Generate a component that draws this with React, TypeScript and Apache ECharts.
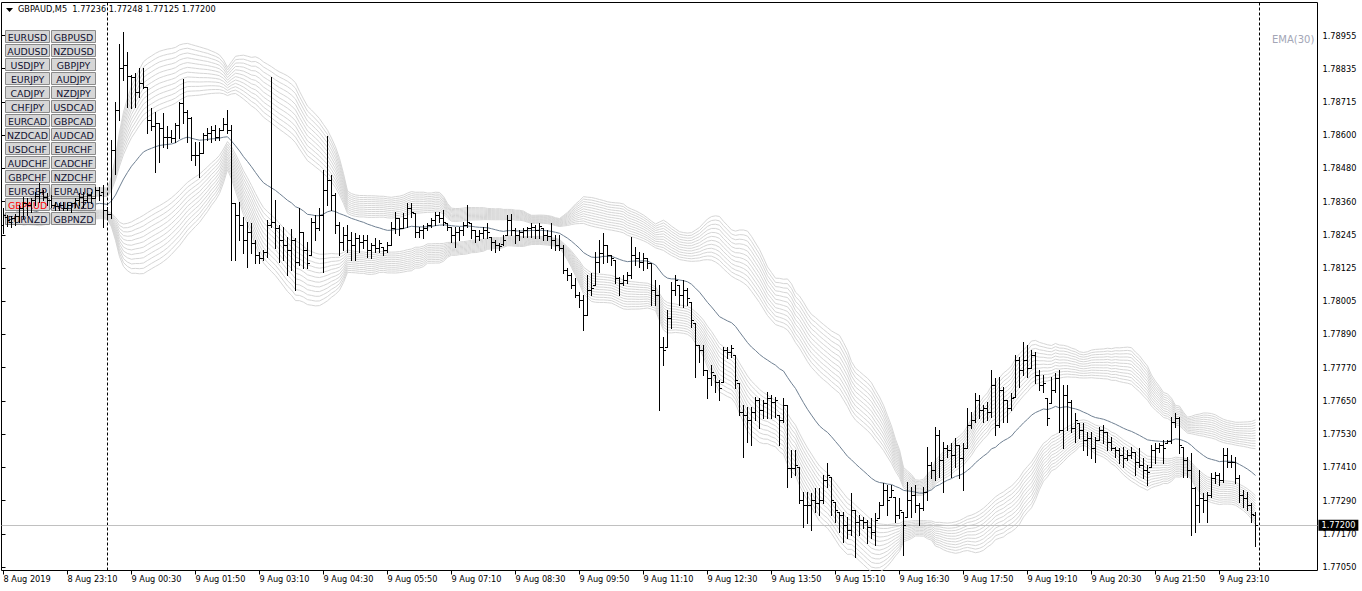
import React, { useEffect, useRef } from 'react';
import * as echarts from 'echarts';

// [open, high, low, close] per M5 bar, 8 Aug 2019 21:50 .. 9 Aug 2019 23:55
const ohlc: number[][] = [
  [1.78276,1.78337,1.78248,1.78312],[1.78305,1.78312,1.78273,1.78294],[1.78287,1.78309,1.78269,1.78301],[1.78301,1.78316,1.78276,1.78309],
  [1.78309,1.78348,1.78287,1.78337],[1.78337,1.78377,1.78301,1.78355],[1.78355,1.78373,1.78312,1.78348],[1.78348,1.78373,1.78323,1.78366],
  [1.78366,1.78395,1.78348,1.78380],[1.78380,1.78427,1.78359,1.78395],[1.78395,1.78402,1.78366,1.78377],[1.78377,1.78391,1.78348,1.78366],
  [1.78366,1.78384,1.78341,1.78348],[1.78348,1.78359,1.78330,1.78344],[1.78344,1.78355,1.78330,1.78348],[1.78348,1.78359,1.78330,1.78337],
  [1.78337,1.78355,1.78330,1.78348],[1.78348,1.78355,1.78323,1.78355],[1.78355,1.78373,1.78341,1.78366],[1.78366,1.78391,1.78348,1.78377],
  [1.78377,1.78395,1.78341,1.78366],[1.78366,1.78391,1.78359,1.78384],[1.78384,1.78395,1.78355,1.78373],[1.78373,1.78413,1.78373,1.78402],
  [1.78402,1.78413,1.78366,1.78384],[1.78395,1.78420,1.78269,1.78330],[1.78330,1.78341,1.78301,1.78316],[1.78316,1.78581,1.78301,1.78545],
  [1.78545,1.78717,1.78459,1.78689],[1.78689,1.78925,1.78653,1.78839],[1.78839,1.78968,1.78796,1.78850],[1.78850,1.78897,1.78699,1.78811],
  [1.78811,1.78814,1.78696,1.78807],[1.78807,1.78821,1.78699,1.78753],[1.78753,1.78839,1.78735,1.78785],[1.78785,1.78839,1.78768,1.78771],
  [1.78771,1.78771,1.78606,1.78653],[1.78653,1.78696,1.78617,1.78631],[1.78631,1.78681,1.78466,1.78642],[1.78642,1.78642,1.78502,1.78624],
  [1.78624,1.78678,1.78556,1.78592],[1.78592,1.78631,1.78552,1.78592],[1.78592,1.78617,1.78574,1.78588],[1.78588,1.78642,1.78574,1.78635],
  [1.78635,1.78717,1.78588,1.78714],[1.78714,1.78800,1.78642,1.78681],[1.78681,1.78689,1.78574,1.78660],[1.78660,1.78664,1.78509,1.78527],
  [1.78527,1.78574,1.78491,1.78527],[1.78527,1.78574,1.78448,1.78534],[1.78534,1.78606,1.78534,1.78599],[1.78599,1.78624,1.78581,1.78606],
  [1.78606,1.78631,1.78574,1.78617],[1.78617,1.78635,1.78581,1.78592],[1.78592,1.78624,1.78581,1.78617],[1.78617,1.78660,1.78617,1.78638],
  [1.78638,1.78689,1.78606,1.78617],[1.78617,1.78635,1.78151,1.78355],[1.78355,1.78355,1.78151,1.78312],[1.78312,1.78359,1.78223,1.78276],
  [1.78276,1.78305,1.78176,1.78223],[1.78223,1.78287,1.78126,1.78251],[1.78251,1.78283,1.78176,1.78212],[1.78212,1.78223,1.78140,1.78169],
  [1.78169,1.78179,1.78140,1.78158],[1.78158,1.78187,1.78151,1.78179],[1.78179,1.78294,1.78162,1.78276],[1.78276,1.78807,1.78269,1.78287],
  [1.78287,1.78366,1.78194,1.78266],[1.78266,1.78276,1.78144,1.78223],[1.78223,1.78269,1.78151,1.78205],[1.78205,1.78233,1.78097,1.78187],
  [1.78187,1.78262,1.78115,1.78223],[1.78223,1.78230,1.78043,1.78144],[1.78144,1.78337,1.78133,1.78251],[1.78251,1.78251,1.78122,1.78187],
  [1.78187,1.78215,1.78122,1.78140],[1.78169,1.78301,1.78169,1.78287],[1.78287,1.78312,1.78223,1.78266],[1.78266,1.78337,1.78258,1.78312],
  [1.78312,1.78474,1.78108,1.78402],[1.78402,1.78595,1.78348,1.78438],[1.78438,1.78456,1.78330,1.78384],[1.78384,1.78391,1.78248,1.78276],
  [1.78276,1.78287,1.78169,1.78215],[1.78215,1.78269,1.78187,1.78240],[1.78240,1.78276,1.78179,1.78223],[1.78223,1.78251,1.78151,1.78205],
  [1.78205,1.78248,1.78151,1.78230],[1.78230,1.78240,1.78179,1.78215],[1.78215,1.78240,1.78194,1.78223],[1.78223,1.78240,1.78162,1.78187],
  [1.78187,1.78212,1.78158,1.78205],[1.78205,1.78230,1.78179,1.78194],[1.78194,1.78223,1.78179,1.78212],[1.78197,1.78197,1.78169,1.78187],
  [1.78187,1.78215,1.78179,1.78205],[1.78205,1.78287,1.78205,1.78266],[1.78266,1.78323,1.78248,1.78301],[1.78301,1.78301,1.78240,1.78266],
  [1.78266,1.78319,1.78266,1.78301],[1.78301,1.78355,1.78269,1.78337],[1.78337,1.78355,1.78305,1.78323],[1.78319,1.78319,1.78233,1.78251],
  [1.78251,1.78269,1.78233,1.78258],[1.78258,1.78276,1.78230,1.78266],[1.78266,1.78283,1.78258,1.78276],[1.78276,1.78301,1.78269,1.78294],
  [1.78294,1.78323,1.78276,1.78312],[1.78312,1.78323,1.78287,1.78301],[1.78301,1.78330,1.78276,1.78287],[1.78283,1.78283,1.78258,1.78269],
  [1.78269,1.78269,1.78215,1.78240],[1.78240,1.78269,1.78197,1.78251],[1.78251,1.78269,1.78223,1.78258],[1.78258,1.78287,1.78240,1.78276],
  [1.78276,1.78348,1.78269,1.78287],[1.78283,1.78283,1.78230,1.78258],[1.78258,1.78258,1.78215,1.78237],[1.78237,1.78258,1.78223,1.78248],
  [1.78248,1.78269,1.78230,1.78258],[1.78258,1.78283,1.78230,1.78251],[1.78233,1.78233,1.78187,1.78215],[1.78215,1.78223,1.78179,1.78205],
  [1.78205,1.78212,1.78187,1.78201],[1.78208,1.78240,1.78205,1.78223],[1.78240,1.78312,1.78240,1.78294],[1.78294,1.78316,1.78240,1.78258],
  [1.78258,1.78266,1.78212,1.78240],[1.78240,1.78258,1.78223,1.78251],[1.78251,1.78266,1.78233,1.78258],[1.78258,1.78269,1.78233,1.78266],
  [1.78266,1.78283,1.78233,1.78269],[1.78269,1.78276,1.78230,1.78258],[1.78258,1.78283,1.78230,1.78273],[1.78266,1.78266,1.78223,1.78240],
  [1.78240,1.78258,1.78223,1.78237],[1.78237,1.78283,1.78194,1.78223],[1.78223,1.78240,1.78187,1.78205],[1.78205,1.78240,1.78187,1.78194],
  [1.78194,1.78205,1.78104,1.78115],[1.78115,1.78122,1.78079,1.78097],[1.78097,1.78104,1.78050,1.78061],[1.78061,1.78086,1.78018,1.78025],
  [1.78025,1.78036,1.77982,1.78007],[1.78007,1.78025,1.77900,1.77954],[1.77954,1.78097,1.77954,1.78043],[1.78043,1.78104,1.78025,1.78050],
  [1.78061,1.78179,1.78061,1.78144],[1.78144,1.78223,1.78108,1.78176],[1.78176,1.78248,1.78140,1.78205],[1.78205,1.78205,1.78144,1.78169],
  [1.78169,1.78169,1.78133,1.78158],[1.78151,1.78151,1.78068,1.78086],[1.78086,1.78090,1.78025,1.78068],[1.78068,1.78097,1.78061,1.78079],
  [1.78079,1.78108,1.78068,1.78097],[1.78097,1.78233,1.78086,1.78169],[1.78169,1.78197,1.78133,1.78158],[1.78158,1.78179,1.78126,1.78144],
  [1.78144,1.78176,1.78115,1.78158],[1.78158,1.78158,1.78122,1.78140],[1.78140,1.78140,1.77990,1.78043],[1.78043,1.78079,1.77990,1.78025],
  [1.78025,1.78061,1.77613,1.77839],[1.77839,1.77875,1.77774,1.77828],[1.77839,1.77972,1.77839,1.77943],[1.77943,1.78072,1.77907,1.78043],
  [1.78043,1.78097,1.78025,1.78079],[1.78061,1.78061,1.77990,1.78025],[1.78025,1.78079,1.77982,1.78043],[1.78043,1.78050,1.77990,1.78014],
  [1.78000,1.78000,1.77911,1.77936],[1.77925,1.77925,1.77731,1.77846],[1.77846,1.77846,1.77785,1.77828],[1.77828,1.77846,1.77739,1.77756],
  [1.77756,1.77756,1.77656,1.77728],[1.77728,1.77774,1.77703,1.77749],[1.77739,1.77739,1.77678,1.77713],[1.77713,1.77721,1.77649,1.77692],
  [1.77713,1.77839,1.77713,1.77828],[1.77828,1.77839,1.77799,1.77821],[1.77821,1.77846,1.77803,1.77835],[1.77810,1.77810,1.77692,1.77721],
  [1.77710,1.77710,1.77595,1.77606],[1.77606,1.77631,1.77444,1.77595],[1.77595,1.77624,1.77498,1.77577],[1.77577,1.77624,1.77487,1.77606],
  [1.77606,1.77660,1.77577,1.77649],[1.77649,1.77656,1.77548,1.77613],[1.77613,1.77649,1.77584,1.77638],[1.77638,1.77678,1.77584,1.77656],
  [1.77656,1.77667,1.77584,1.77642],[1.77642,1.77660,1.77588,1.77649],[1.77595,1.77595,1.77487,1.77577],[1.77577,1.77656,1.77570,1.77631],
  [1.77631,1.77631,1.77337,1.77405],[1.77405,1.77470,1.77373,1.77405],[1.77405,1.77470,1.77380,1.77416],[1.77409,1.77409,1.77280,1.77290],
  [1.77290,1.77319,1.77194,1.77272],[1.77272,1.77319,1.77208,1.77272],[1.77272,1.77315,1.77183,1.77290],[1.77290,1.77333,1.77247,1.77280],
  [1.77280,1.77333,1.77237,1.77290],[1.77290,1.77380,1.77280,1.77362],[1.77362,1.77423,1.77337,1.77380],[1.77373,1.77373,1.77237,1.77290],
  [1.77283,1.77283,1.77211,1.77254],[1.77247,1.77247,1.77176,1.77237],[1.77237,1.77247,1.77140,1.77201],[1.77201,1.77229,1.77154,1.77183],
  [1.77183,1.77315,1.77165,1.77254],[1.77254,1.77254,1.77086,1.77211],[1.77211,1.77237,1.77165,1.77219],[1.77219,1.77229,1.77190,1.77211],
  [1.77211,1.77219,1.77136,1.77194],[1.77194,1.77226,1.77154,1.77176],[1.77176,1.77244,1.77129,1.77219],[1.77226,1.77283,1.77226,1.77272],
  [1.77272,1.77351,1.77272,1.77326],[1.77326,1.77344,1.77237,1.77290],[1.77301,1.77344,1.77301,1.77326],[1.77301,1.77301,1.77211,1.77237],
  [1.77237,1.77297,1.77226,1.77254],[1.77247,1.77247,1.77093,1.77201],[1.77229,1.77355,1.77229,1.77290],[1.77290,1.77337,1.77229,1.77308],
  [1.77308,1.77344,1.77247,1.77272],[1.77272,1.77280,1.77201,1.77262],[1.77262,1.77337,1.77254,1.77319],[1.77319,1.77480,1.77290,1.77416],
  [1.77416,1.77427,1.77369,1.77398],[1.77398,1.77552,1.77362,1.77523],[1.77523,1.77541,1.77373,1.77434],[1.77434,1.77498,1.77319,1.77477],
  [1.77477,1.77487,1.77444,1.77470],[1.77470,1.77495,1.77373,1.77452],[1.77452,1.77513,1.77409,1.77487],[1.77487,1.77487,1.77369,1.77441],
  [1.77441,1.77495,1.77326,1.77477],[1.77477,1.77620,1.77477,1.77559],[1.77559,1.77606,1.77548,1.77577],[1.77577,1.77674,1.77570,1.77649],
  [1.77649,1.77667,1.77584,1.77613],[1.77613,1.77631,1.77570,1.77620],[1.77620,1.77642,1.77577,1.77606],[1.77606,1.77756,1.77588,1.77703],
  [1.77703,1.77728,1.77523,1.77559],[1.77559,1.77731,1.77552,1.77685],[1.77685,1.77695,1.77570,1.77649],[1.77649,1.77649,1.77570,1.77620],
  [1.77620,1.77674,1.77613,1.77656],[1.77660,1.77810,1.77660,1.77792],[1.77792,1.77803,1.77695,1.77756],[1.77756,1.77857,1.77739,1.77792],
  [1.77792,1.77846,1.77731,1.77764],[1.77764,1.77828,1.77764,1.77810],[1.77810,1.77821,1.77710,1.77739],[1.77739,1.77756,1.77685,1.77703],
  [1.77703,1.77739,1.77678,1.77710],[1.77656,1.77656,1.77559,1.77584],[1.77638,1.77731,1.77638,1.77685],[1.77685,1.77745,1.77678,1.77728],
  [1.77728,1.77756,1.77534,1.77541],[1.77541,1.77703,1.77477,1.77667],[1.77667,1.77703,1.77541,1.77642],[1.77642,1.77649,1.77534,1.77548],
  [1.77548,1.77602,1.77498,1.77577],[1.77566,1.77566,1.77513,1.77541],[1.77541,1.77566,1.77470,1.77505],[1.77505,1.77534,1.77452,1.77513],
  [1.77513,1.77534,1.77441,1.77477],[1.77477,1.77516,1.77427,1.77505],[1.77505,1.77552,1.77505,1.77541],[1.77541,1.77559,1.77495,1.77534],
  [1.77534,1.77534,1.77470,1.77498],[1.77498,1.77516,1.77470,1.77477],[1.77477,1.77480,1.77444,1.77470],[1.77470,1.77477,1.77423,1.77452],
  [1.77452,1.77480,1.77409,1.77441],[1.77441,1.77470,1.77434,1.77452],[1.77452,1.77480,1.77441,1.77462],[1.77462,1.77462,1.77380,1.77427],
  [1.77427,1.77477,1.77409,1.77416],[1.77416,1.77441,1.77369,1.77398],[1.77398,1.77416,1.77344,1.77391],[1.77409,1.77487,1.77409,1.77470],
  [1.77470,1.77495,1.77423,1.77477],[1.77477,1.77495,1.77462,1.77487],[1.77487,1.77505,1.77423,1.77477],[1.77495,1.77505,1.77495,1.77502],
  [1.77502,1.77588,1.77495,1.77570],[1.77570,1.77602,1.77552,1.77584],[1.77584,1.77588,1.77459,1.77487],[1.77480,1.77480,1.77373,1.77434],
  [1.77434,1.77444,1.77373,1.77398],[1.77398,1.77459,1.77165,1.77333],[1.77333,1.77337,1.77176,1.77272],[1.77272,1.77398,1.77211,1.77297],
  [1.77297,1.77315,1.77247,1.77290],[1.77290,1.77319,1.77211,1.77308],[1.77308,1.77387,1.77301,1.77369],[1.77369,1.77391,1.77351,1.77380],
  [1.77380,1.77387,1.77344,1.77362],[1.77362,1.77477,1.77355,1.77452],[1.77452,1.77477,1.77409,1.77427],[1.77427,1.77452,1.77409,1.77427],
  [1.77427,1.77444,1.77351,1.77369],[1.77369,1.77380,1.77283,1.77308],[1.77308,1.77326,1.77265,1.77297],[1.77297,1.77319,1.77254,1.77272],
  [1.77272,1.77280,1.77211,1.77240],[1.77236,1.77248,1.77125,1.77200],
];

const xTickLabels = [
  '8 Aug 2019', '8 Aug 23:10', '9 Aug 00:30', '9 Aug 01:50', '9 Aug 03:10', '9 Aug 04:30', '9 Aug 05:50',
  '9 Aug 07:10', '9 Aug 08:30', '9 Aug 09:50', '9 Aug 11:10', '9 Aug 12:30', '9 Aug 13:50', '9 Aug 15:10',
  '9 Aug 16:30', '9 Aug 17:50', '9 Aug 19:10', '9 Aug 20:30', '9 Aug 21:50', '9 Aug 23:10',
];
const yTickLabels = [
  '1.77050', '1.77170', '1.77290', '1.77410', '1.77530', '1.77650', '1.77770', '1.77890', '1.78005',
  '1.78125', '1.78245', '1.78360', '1.78480', '1.78600', '1.78715', '1.78835', '1.78955',
];
const buttonRows = [
  ['EURUSD', 'GBPUSD'], ['AUDUSD', 'NZDUSD'], ['USDJPY', 'GBPJPY'], ['EURJPY', 'AUDJPY'],
  ['CADJPY', 'NZDJPY'], ['CHFJPY', 'USDCAD'], ['EURCAD', 'GBPCAD'], ['NZDCAD', 'AUDCAD'],
  ['USDCHF', 'EURCHF'], ['AUDCHF', 'CADCHF'], ['GBPCHF', 'NZDCHF'], ['EURGBP', 'EURAUD'],
  ['GBPAUD', 'AUDNZD'], ['EURNZD', 'GBPNZD'],
];
const activeSymbol = 'GBPAUD';
const titleText = 'GBPAUD,M5  1.77236 1.77248 1.77125 1.77200';
const bidPrice = 1.772;
const bidLabel = '1.77200';
const emaPeriod = 30;
const bandPeriod = 30;
const bandDeviations = [0.9, 1.0, 1.1, 1.2, 1.3, 1.4, 1.5, 1.6, 1.7, 1.8, 1.9, 2.0];
const daySeparators = [26, 314];
const emptySlots = 15;
const startMinutes = 21 * 60 + 50; // 8 Aug 21:50
const priceMin = 1.770375;
const priceMax = 1.79074;

const FONT = 'DejaVu Sans';

export default function App() {
  const ref = useRef<HTMLDivElement>(null);
  useEffect(() => {
    document.body.style.margin = '0';
    if (!ref.current) return;
    const chart = echarts.init(ref.current, undefined, { renderer: 'svg' });

    const total = ohlc.length + emptySlots;
    const categories: string[] = [];
    for (let i = 0; i < total; i++) {
      const m = startMinutes + 5 * i;
      const day = 8 + Math.floor(m / 1440);
      const mm = m % 1440;
      const hh = String(Math.floor(mm / 60)).padStart(2, '0');
      const mi = String(mm % 60).padStart(2, '0');
      categories.push(`${day} Aug ${hh}:${mi}`);
    }

    const closes = ohlc.map((d) => d[3]);
    const kEma = 2 / (emaPeriod + 1);
    const ema: number[] = [];
    closes.forEach((c, i) => ema.push(i === 0 ? c : ema[i - 1] + kEma * (c - ema[i - 1])));

    const mid: number[] = [];
    const sd: number[] = [];
    closes.forEach((_, i) => {
      const w = closes.slice(Math.max(0, i - bandPeriod + 1), i + 1);
      const m = w.reduce((a, b) => a + b, 0) / w.length;
      const v = w.reduce((a, b) => a + (b - m) * (b - m), 0) / w.length;
      mid.push(m);
      sd.push(Math.sqrt(v));
    });

    const bandSeries: any[] = [];
    bandDeviations.forEach((k) => {
      [1, -1].forEach((sgn) => {
        bandSeries.push({
          type: 'line',
          xAxisIndex: 0,
          yAxisIndex: 0,
          data: mid.map((m, i) => m + sgn * k * sd[i]),
          showSymbol: false,
          silent: true,
          z: 2,
          lineStyle: { color: '#d6d6d6', width: 1 },
        });
      });
    });

    const isTick = (idx: number) => idx % 16 === 0 && idx / 16 < xTickLabels.length;

    const option: any = {
      animation: false,
      backgroundColor: '#ffffff',
      grid: [
        { left: 1.5, right: 44.5, top: 2.5, bottom: 20.5, show: true, borderColor: '#000', borderWidth: 1, backgroundColor: 'transparent' },
        { left: 1.5, right: 44.5, top: 35.5, bottom: 24, show: false },
      ],
      xAxis: [
        {
          type: 'category',
          gridIndex: 0,
          data: categories,
          boundaryGap: true,
          axisLine: { show: false },
          axisTick: { show: true, interval: isTick, alignWithLabel: true, length: 4, lineStyle: { color: '#000' } },
          axisLabel: {
            show: true,
            interval: isTick,
            formatter: (_v: string, idx: number) => xTickLabels[idx / 16] ?? '',
            align: 'left',
            margin: 4,
            color: '#000',
            fontFamily: FONT,
            fontSize: 8.2,
          },
          splitLine: { show: false },
        },
        { type: 'value', gridIndex: 1, show: false, min: 0, max: 1 },
      ],
      yAxis: [
        {
          type: 'value',
          gridIndex: 0,
          position: 'right',
          min: priceMin,
          max: priceMax,
          axisLine: { show: false },
          axisTick: { show: false },
          axisLabel: { show: false },
          splitLine: { show: false },
        },
        {
          type: 'value',
          gridIndex: 1,
          position: 'right',
          min: 0,
          max: yTickLabels.length - 1,
          interval: 1,
          axisLine: { show: false },
          axisTick: { show: true, length: 4, lineStyle: { color: '#000' } },
          axisLabel: {
            show: true,
            formatter: (v: number) => yTickLabels[Math.round(v)] ?? '',
            margin: 5,
            color: '#000',
            fontFamily: FONT,
            fontSize: 8.2,
          },
          splitLine: { show: false },
        },
      ],
      series: [
        ...bandSeries,
        {
          type: 'line',
          xAxisIndex: 0,
          yAxisIndex: 0,
          data: ema,
          showSymbol: false,
          silent: true,
          z: 3,
          lineStyle: { color: '#6f8092', width: 1 },
          markLine: {
            symbol: 'none',
            silent: true,
            animation: false,
            precision: 6,
            data: [
              ...daySeparators.map((d) => ({
                xAxis: d,
                lineStyle: { color: '#000', width: 1, type: [3, 2] },
                label: { show: false },
              })),
              {
                yAxis: bidPrice,
                lineStyle: { color: '#c0c0c0', width: 1, type: 'solid' },
                label: {
                  show: true,
                  position: 'end',
                  formatter: bidLabel,
                  backgroundColor: '#000',
                  color: '#fff',
                  padding: [2, 3, 1, 3],
                  distance: 1,
                  fontFamily: FONT,
                  fontSize: 8.2,
                },
              },
            ],
          },
        },
        {
          type: 'custom',
          xAxisIndex: 0,
          yAxisIndex: 0,
          z: 10,
          silent: true,
          data: ohlc.map((d, i) => [i, d[0], d[1], d[2], d[3]]),
          encode: { x: 0, y: [1, 2, 3, 4] },
          renderItem: (_p: any, api: any) => {
            const i = api.value(0);
            const po = api.coord([i, api.value(1)]);
            const yh = Math.round(api.coord([i, api.value(2)])[1]);
            const yl = Math.round(api.coord([i, api.value(3)])[1]);
            const yo = Math.round(po[1]) + 0.5;
            const yc = Math.round(api.coord([i, api.value(4)])[1]) + 0.5;
            const x = Math.floor(po[0]) + 0.5;
            const st = { stroke: '#000', lineWidth: 1 };
            return {
              type: 'group',
              children: [
                { type: 'line', shape: { x1: x, y1: yh, x2: x, y2: yl + 1 }, style: st },
                { type: 'line', shape: { x1: x - 2.5, y1: yo, x2: x, y2: yo }, style: st },
                { type: 'line', shape: { x1: x, y1: yc, x2: x + 2.5, y2: yc }, style: st },
              ],
            };
          },
        },
      ],
      graphic: [
        {
          type: 'polygon',
          z: 20,
          shape: { points: [[6, 8], [13, 8], [9.5, 12]] },
          style: { fill: '#000' },
        },
        {
          type: 'text',
          z: 20,
          x: 18,
          y: 5,
          style: { text: titleText, fill: '#000', font: `8.2px "${FONT}"` },
        },
        {
          type: 'text',
          z: 20,
          x: 1272,
          y: 34,
          style: { text: 'EMA(30)', fill: '#a3a6b6', font: `10px "${FONT}"` },
        },
        ...buttonRows.flatMap((row, r) =>
          row.map((label, c) => ({
            type: 'group',
            x: 5 + c * 46,
            y: 30 + r * 14,
            z: 5,
            children: [
              {
                type: 'rect',
                z: 5,
                shape: { x: 0.5, y: 0.5, width: 44, height: 12 },
                style: { fill: '#d6d6d6', stroke: '#8a8a8a', lineWidth: 1 },
              },
              {
                type: 'text',
                z: 6,
                x: 22.5,
                y: 7,
                style: {
                  text: label,
                  fill: label === activeSymbol ? '#ff0000' : '#101030',
                  font: `9.4px "${FONT}"`,
                  align: 'center',
                  verticalAlign: 'middle',
                },
              },
            ],
          }))
        ),
      ],
    };

    chart.setOption(option);
    return () => chart.dispose();
  }, []);

  return <div ref={ref} style={{ width: 1362, height: 591 }} />;
}
